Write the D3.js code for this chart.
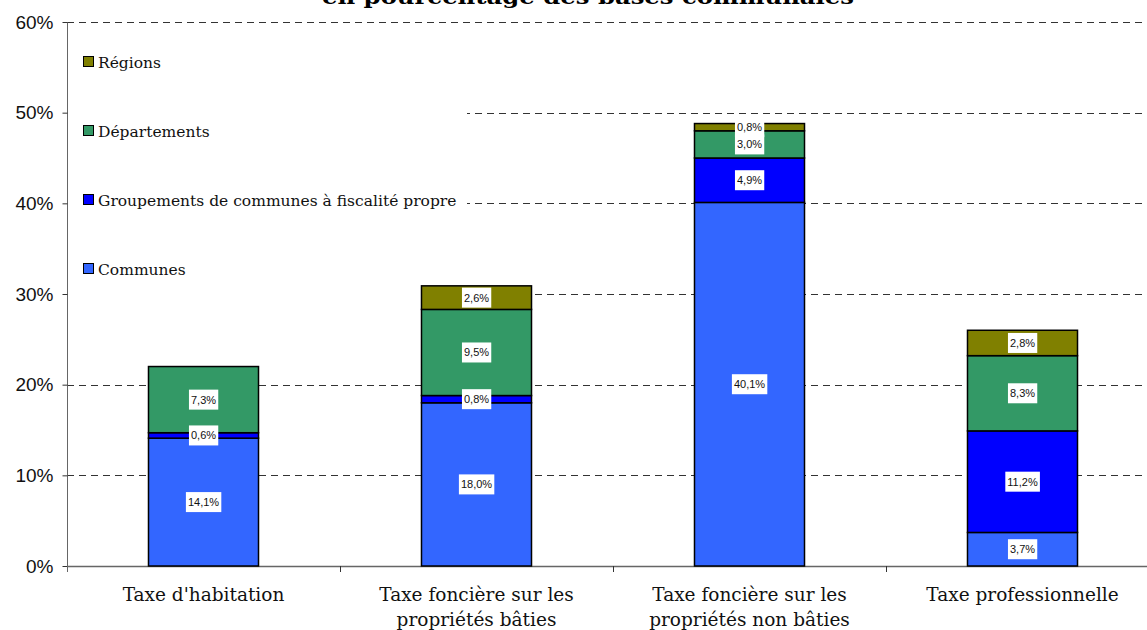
<!DOCTYPE html>
<html>
<head>
<meta charset="utf-8">
<script src="https://cdn.jsdelivr.net/npm/d3@7"></script>
<style>
  html, body { margin: 0; padding: 0; background: #fff; }
  svg { display: block; }
</style>
</head>
<body>
<svg id="chart" width="1147" height="630"></svg>
<script>
// ---- Data ----
const categories = [
  ["Taxe d'habitation"],
  ["Taxe foncière sur les", "propriétés bâties"],
  ["Taxe foncière sur les", "propriétés non bâties"],
  ["Taxe professionnelle"]
];
const seriesNames = ["Communes", "Groupements de communes à fiscalité propre", "Départements", "Régions"];
const communes     = [14.1, 18.0, 40.1, 3.7];
const groupements  = [0.6, 0.8, 4.9, 11.2];
const departements = [7.3, 9.5, 3.0, 8.3];
const regions      = [0, 2.6, 0.8, 2.8];
const yTicks = [0, 10, 20, 30, 40, 50, 60];
const titleText = "en pourcentage des bases communales";

const colors = ["#3366FF", "#0000FF", "#339966", "#808000"];

// ---- Layout ----
const svg = d3.select("#chart");
const plotLeft = 67, plotTop = 22, plotBottom = 566, catStep = 273;
const catKeys = categories.map(c => c.join(" "));

const x = d3.scaleBand()
  .domain(catKeys)
  .range([plotLeft, plotLeft + catStep * catKeys.length])
  .paddingInner(0.597)
  .paddingOuter(0.597 / 2);

const y = d3.scaleLinear().domain([0, 60]).range([plotBottom, plotTop]);

const rows = catKeys.map((k, i) => ({
  cat: k,
  s0: communes[i], s1: groupements[i], s2: departements[i], s3: regions[i]
}));
const stacked = d3.stack().keys(["s0", "s1", "s2", "s3"])(rows);

const loc = d3.formatLocale({decimal: ",", thousands: " ", grouping: [3], currency: ["", "€"]});
const fmtLabel = v => loc.format(".1f")(v) + "%";

// Title (second line of the title, cut off at the top as in the reference)
svg.append("text")
  .attr("x", 588).attr("y", 4)
  .attr("text-anchor", "middle")
  .attr("font-family", "DejaVu Serif")
  .attr("font-weight", "bold")
  .attr("font-size", 21)
  .attr("textLength", 532)
  .attr("lengthAdjust", "spacingAndGlyphs")
  .text(titleText);

// Gridlines
svg.append("g").selectAll("line")
  .data(yTicks.filter(t => t > 0))
  .join("line")
  .attr("x1", plotLeft).attr("x2", 1147)
  .attr("y1", d => Math.round(y(d)) + 0.5).attr("y2", d => Math.round(y(d)) + 0.5)
  .attr("stroke", "#333")
  .attr("stroke-width", 1)
  .attr("stroke-dasharray", "7,5");

// Legend background (covers gridlines behind it)
svg.append("rect")
  .attr("x", plotLeft + 1).attr("y", 36)
  .attr("width", 467 - plotLeft - 1).attr("height", 300 - 36)
  .attr("fill", "#fff");

// Legend items (reverse order: Régions on top)
const legendY = [62, 131, 200, 269];
const legendOrder = [3, 2, 1, 0];
const lg = svg.append("g");
legendOrder.forEach((si, j) => {
  lg.append("rect")
    .attr("x", 83.5).attr("y", legendY[j] - 5.5)
    .attr("width", 10).attr("height", 10)
    .attr("fill", colors[si]).attr("stroke", "#000").attr("stroke-width", 1);
  lg.append("text")
    .attr("x", 98).attr("y", legendY[j] + 5.5)
    .attr("font-family", "DejaVu Serif")
    .attr("font-size", 15.5)
    .attr("fill", "#111")
    .text(seriesNames[si]);
});

// Y axis
const yAxis = d3.axisLeft(y).tickValues(yTicks).tickSize(5).tickFormat(d => d + "%");
const yg = svg.append("g").attr("transform", `translate(${plotLeft + 0.5},0)`).call(yAxis);
yg.select(".domain").attr("stroke", "#666").attr("d", `M0,${plotTop}V${plotBottom + 6}`);
yg.selectAll(".tick line").attr("stroke", "#333");
yg.selectAll(".tick text")
  .attr("font-family", "Liberation Sans, Arial, sans-serif")
  .attr("font-size", 19)
  .attr("fill", "#111")
  .attr("x", -14);

// X axis line and ticks at category boundaries
const xg = svg.append("g");
xg.append("line")
  .attr("x1", plotLeft).attr("x2", 1147)
  .attr("y1", plotBottom + 0.5).attr("y2", plotBottom + 0.5)
  .attr("stroke", "#666").attr("stroke-width", 1.5);
d3.range(1, catKeys.length).forEach(i => {
  const bx = Math.round(plotLeft + i * x.step()) + 0.5;
  xg.append("line")
    .attr("x1", bx).attr("x2", bx)
    .attr("y1", plotBottom).attr("y2", plotBottom + 6)
    .attr("stroke", "#333");
});

// Category labels
const catG = svg.append("g");
categories.forEach((lines, i) => {
  const cx = x(catKeys[i]) + x.bandwidth() / 2;
  const t = catG.append("text")
    .attr("text-anchor", "middle")
    .attr("font-family", "DejaVu Serif")
    .attr("font-size", 18.5)
    .attr("fill", "#111");
  lines.forEach((ln, j) => {
    t.append("tspan").attr("x", cx).attr("y", 601 + j * 25).text(ln);
  });
});

// Bars
const barsG = svg.append("g");
stacked.forEach((layer, si) => {
  barsG.append("g").selectAll("rect")
    .data(layer.filter(d => d[1] - d[0] > 0))
    .join("rect")
    .attr("x", d => x(d.data.cat))
    .attr("width", x.bandwidth())
    .attr("y", d => y(d[1]))
    .attr("height", d => y(d[0]) - y(d[1]))
    .attr("fill", colors[si])
    .attr("stroke", "#000")
    .attr("stroke-width", 1.5);
});

// Data labels
const labG = svg.append("g");
stacked.forEach((layer, si) => {
  layer.forEach(d => {
    const v = d[1] - d[0];
    if (v <= 0) return;
    const cx = x(d.data.cat) + x.bandwidth() / 2;
    const cy = (y(d[0]) + y(d[1])) / 2;
    const g = labG.append("g");
    const txt = g.append("text")
      .attr("x", cx).attr("y", cy + 4)
      .attr("text-anchor", "middle")
      .attr("font-family", "Liberation Sans, Arial, sans-serif")
      .attr("font-size", 11)
      .attr("fill", "#111")
      .text(fmtLabel(v));
    const bb = txt.node().getBBox();
    g.insert("rect", "text")
      .attr("x", bb.x - 2).attr("y", cy - 10)
      .attr("width", bb.width + 4).attr("height", 20)
      .attr("fill", "#fff");
  });
});
</script>
</body>
</html>
